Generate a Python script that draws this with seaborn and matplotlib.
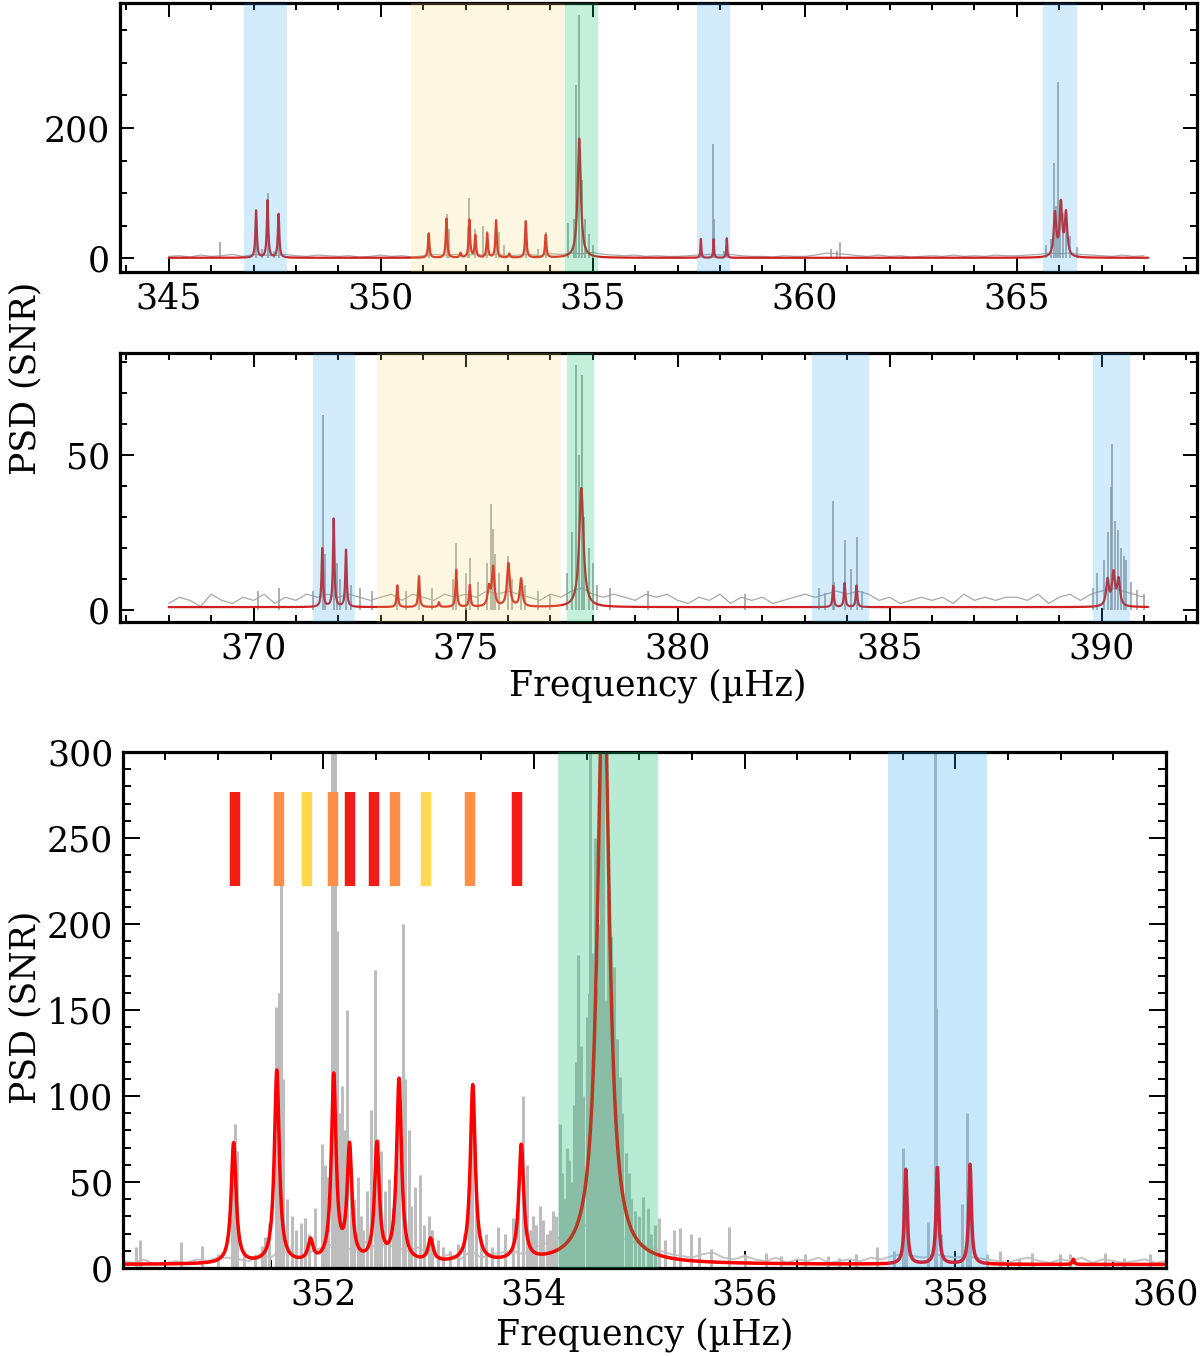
import numpy as np
import matplotlib
matplotlib.use("Agg")
import matplotlib.pyplot as plt
from matplotlib.ticker import MultipleLocator
import seaborn as sns

sns.set_theme(style="ticks")
plt.rcParams['font.family'] = ['DejaVu Serif']
plt.rcParams['mathtext.fontset'] = 'dejavuserif'
for k in ["text.color", "axes.labelcolor", "xtick.color", "ytick.color", "axes.edgecolor"]:
    plt.rcParams[k] = "black"

# ---------------- data ----------------
# panel 1 (345 - 368 uHz): fitted modes (freq, height, width)
p1_nu = [347.06, 347.33, 347.59, 351.13, 351.55, 351.88, 352.09, 352.23, 352.51, 352.72,
         353.03, 353.42, 353.89, 354.68, 357.55, 357.85, 358.16, 365.90, 366.04, 366.16]
p1_h = [72, 88, 67, 37, 60, 7, 58, 34, 37, 57, 6, 56, 35, 183, 29, 29, 30, 66, 80, 66]
p1_w = [0.02, 0.02, 0.02, 0.02, 0.02, 0.02, 0.02, 0.02, 0.02, 0.02,
        0.02, 0.02, 0.02, 0.045, 0.012, 0.012, 0.012, 0.035, 0.035, 0.035]
p1_noise = [3, 4, 2, 5, 3, 4, 6, 3,
            6, 5, 4, 6, 4, 3, 5, 4,
            3, 4, 2, 3, 5, 3, 4, 2,
            4, 6, 5, 6, 5, 6, 5, 6,
            4, 5, 6, 4, 7, 6, 8, 7,
            9, 6, 5, 4, 5, 3, 4, 3,
            3, 4, 5, 6, 5, 6, 4, 3,
            3, 2, 4, 3, 3, 5, 8, 7,
            6, 4, 3, 5, 3, 4, 2, 3,
            4, 3, 5, 3, 4, 3, 5, 4,
            4, 5, 6, 8, 7, 8, 6, 5,
            4, 3, 5, 3, 4]
p1_spk_f = [346.22, 347.06, 347.2, 347.33, 347.48, 347.59, 351.13, 351.57, 351.62, 352.05,
            352.09, 352.23, 352.4, 352.51, 352.72, 352.78, 352.9, 353.42, 353.7, 353.89,
            354.42, 354.55, 354.6, 354.68, 354.75, 354.82, 354.9, 355.0, 357.55, 357.83,
            357.86, 358.1, 358.16, 360.63, 360.75, 360.83, 365.68, 365.8, 365.87, 365.93,
            365.97, 366.02, 366.1, 366.16, 366.25, 366.42]
p1_spk_h = [25, 75, 15, 100, 12, 68, 40, 68, 45, 50,
            92, 45, 50, 42, 60, 40, 20, 58, 15, 40,
            54, 60, 266, 374, 120, 60, 38, 20, 28, 175,
            60, 12, 30, 15, 12, 25, 20, 30, 147, 80,
            270, 90, 70, 65, 35, 17]
p1_spans = [("blue", 346.78, 347.79), ("yellow", 350.71, 354.34), ("green", 354.34, 355.13),
            ("blue", 357.45, 358.23), ("blue", 365.61, 366.41)]

# panel 2 (368 - 391 uHz)
p2_nu = [371.62, 371.89, 372.18, 373.39, 373.90, 374.37, 374.78, 375.10, 375.55, 375.65,
         376.01, 376.31, 377.73, 383.67, 383.94, 384.22, 390.14, 390.28, 390.40]
p2_h = [19, 28.5, 18.5, 7, 10, 1.5, 12, 7, 6, 12.5, 14, 9, 38.5, 6.8, 7.8, 7, 8.5, 10.5, 8.5]
p2_w = [0.02, 0.02, 0.02, 0.02, 0.02, 0.02, 0.02, 0.02, 0.035, 0.035,
        0.04, 0.035, 0.06, 0.02, 0.02, 0.02, 0.04, 0.04, 0.04]
p2_noise = [2, 4, 3, 1, 5, 3, 2, 4,
            3, 5, 2, 4, 3, 5, 4, 5,
            4, 5, 4, 3, 4, 5, 3, 5,
            4, 3, 5, 4, 5, 4, 6, 5,
            6, 5, 4, 3, 5, 4, 6, 7,
            5, 4, 5, 4, 3, 5, 4, 5,
            3, 2, 4, 3, 5, 2, 4, 3,
            4, 2, 3, 4, 5, 4, 5, 6,
            5, 6, 5, 3, 4, 2, 3, 4,
            3, 4, 2, 5, 3, 4, 3, 4,
            4, 3, 5, 2, 4, 5, 3, 5,
            6, 7, 6, 5, 4]
p2_spk_f = [370.1, 370.6, 371.4, 371.63, 371.68, 371.89, 371.97, 372.04, 372.18, 372.3, 372.5,
            372.8, 373.39, 373.6, 373.9, 374.2, 374.7, 374.78, 375.0, 375.1, 375.3, 375.5,
            375.6, 375.65, 375.7, 375.8, 376.01, 376.1, 376.31, 376.4, 376.7, 377.0,
            377.4, 377.5, 377.6, 377.68, 377.75, 377.8, 377.9, 378.0, 378.1, 378.4, 379.3,
            381.6, 383.33, 383.48, 383.67, 383.7, 383.94, 384.09, 384.22, 384.35,
            389.79, 389.9, 390.05, 390.15, 390.21, 390.24, 390.31, 390.38, 390.45, 390.52,
            390.58, 390.7, 390.83, 391.0]
p2_spk_h = [6, 7, 6, 63, 18, 28, 15, 10, 19, 8, 7,
            6, 8, 6, 11, 7, 10, 21.5, 12, 16.7, 9, 15,
            34, 26, 18, 12, 17.4, 10, 10, 8, 6, 5,
            12, 25, 79, 50, 76, 30, 20, 15, 8, 7, 6,
            5, 7, 5.5, 35, 9, 22.6, 13, 23.4, 6,
            7, 12, 16, 25, 39.8, 53.5, 28.5, 25.8, 20, 17.4,
            16, 9, 6.5, 5]
p2_spans = [("blue", 371.41, 372.40), ("yellow", 372.91, 377.24), ("green", 377.40, 378.04),
            ("blue", 383.18, 384.52), ("blue", 389.79, 390.67)]

# panel 3 (zoom 350 - 360 uHz)
p3_nu = [351.15, 351.56, 351.88, 352.10, 352.25, 352.51, 352.72, 353.02, 353.42, 353.88,
         354.66, 357.53, 357.83, 358.14, 359.12]
p3_h = [70, 112, 12, 108, 66, 68, 106, 13, 103, 67, 360, 55, 56, 58, 3]
p3_w = [0.028, 0.028, 0.028, 0.027, 0.027, 0.027, 0.028, 0.028, 0.028, 0.028,
        0.065, 0.015, 0.015, 0.015, 0.01]
p3_noise = [4, 3, 5, 2, 3, 4, 3, 5, 4, 6,
            6, 5, 4, 8, 6, 10, 8, 6, 10, 12,
            14, 12, 10, 15, 12, 14, 12, 10, 12, 8,
            6, 8, 5, 10, 6, 8, 9, 10, 8, 12,
            14, 16, 20, 22, 25, 24, 20, 18, 16, 14,
            12, 10, 8, 7, 6, 8, 9, 6, 5, 7,
            5, 4, 6, 3, 5, 4, 6, 3, 4, 5,
            4, 6, 5, 7, 8, 7, 6, 8, 7, 6,
            7, 6, 5, 4, 3, 5, 6, 4, 3, 5,
            4, 6, 3, 5, 4, 3, 4, 5, 3, 4]
p3_spk_f = [350.22, 350.26, 350.65, 350.85, 351.0,
            351.13, 351.16, 351.18, 351.25, 351.35, 351.42, 351.45, 351.49, 351.55, 351.58,
            351.60, 351.62, 351.66, 351.70, 351.74, 351.79, 351.83, 351.87, 351.92, 351.99,
            352.02, 352.05, 352.08, 352.11, 352.13, 352.15, 352.18, 352.20, 352.23, 352.26,
            352.29, 352.33, 352.36, 352.38, 352.42, 352.45, 352.49, 352.52, 352.55, 352.59,
            352.62, 352.66, 352.69, 352.72, 352.76, 352.78, 352.81, 352.83, 352.87, 352.92,
            352.96, 353.0, 353.03, 353.09, 353.14, 353.2, 353.28, 353.34, 353.38, 353.41,
            353.45, 353.5, 353.55, 353.6, 353.66, 353.73, 353.80, 353.85, 353.90, 353.93,
            353.96, 353.99, 354.02, 354.06, 354.09, 354.12, 354.15, 354.18, 354.21, 354.25,
            354.27, 354.29, 354.31, 354.33, 354.36, 354.38, 354.40, 354.42, 354.45, 354.47,
            354.50, 354.52, 354.53, 354.56, 354.58, 354.60, 354.62, 354.64, 354.66, 354.68,
            354.70, 354.73, 354.75, 354.76, 354.79, 354.82, 354.84, 354.87, 354.90, 354.92,
            354.96, 355.0, 355.04, 355.08, 355.11, 355.15, 355.19, 355.24, 355.33, 355.39,
            355.49, 355.57, 355.68, 355.85, 356.0, 356.2, 356.35, 356.57, 356.79, 356.9,
            357.06, 357.26, 357.42, 357.50, 357.53, 357.74, 357.81, 357.82, 357.86, 358.06,
            358.11, 358.14, 358.3, 358.42, 358.60, 358.73, 358.99, 359.09, 359.42, 359.6,
            359.85]
p3_spk_h = [12, 16, 15, 13, 8,
            70, 84, 68, 10, 8, 13, 18, 26, 152, 160,
            245, 110, 40, 30, 22, 26, 29, 20, 35, 72,
            60, 53, 310, 300, 196, 90, 106, 80, 150, 59,
            40, 53, 30, 22, 45, 92, 173, 75, 68, 45,
            52, 35, 60, 110, 200, 110, 80, 36, 47, 54,
            25, 30, 22, 16, 12, 10, 14, 20, 40, 105,
            55, 18, 20, 12, 24, 20, 29, 45, 100, 60,
            22, 30, 25, 36, 28, 20, 22, 33, 30, 84,
            55, 40, 70, 63, 50, 95, 120, 182, 129, 100,
            146, 160, 310, 183, 250, 163, 200, 310, 300, 156,
            220, 193, 150, 175, 133, 111, 90, 67, 55, 40,
            33, 30, 41, 35, 20, 25, 29, 16, 22, 23,
            20, 18, 11, 24, 8, 9, 7, 8, 7, 6,
            8, 12, 10, 70, 55, 27, 310, 151, 20, 37,
            90, 55, 8, 10, 5, 9, 8, 8, 9, 6,
            8]
p3_spans = [("green", 354.23, 355.18), ("blue", 357.36, 358.30)]
mark_f = [351.16, 351.58, 351.85, 352.09, 352.25, 352.48, 352.68, 352.98, 353.39, 353.84]
mark_c = ["red", "orange", "yellow", "orange", "red", "red", "orange", "yellow", "orange", "red"]

span_col = {"blue": "#23a3f3", "yellow": "#f7db6b", "green": "#12c070"}
mark_col = {"red": "#f41c14", "orange": "#fd8f47", "yellow": "#ffd84c"}


def lorentz_model(f, nu, h, w, bg):
    out = np.full_like(f, bg, dtype=float)
    for n, a, g in zip(nu, h, w):
        out += a / (1.0 + ((f - n) / g) ** 2)
    return out


def style_axes(ax, xmaj, xmin, ymaj, ymin, big=False):
    ax.xaxis.set_major_locator(MultipleLocator(xmaj))
    ax.xaxis.set_minor_locator(MultipleLocator(xmin))
    ax.yaxis.set_major_locator(MultipleLocator(ymaj))
    ax.yaxis.set_minor_locator(MultipleLocator(ymin))
    L = 12 if big else 10
    ax.tick_params(which="both", direction="in", top=True, right=True,
                   labelsize=25, width=1.4, pad=7, colors="black")
    ax.tick_params(which="major", length=L)
    ax.tick_params(which="minor", length=L / 2)
    for s in ax.spines.values():
        s.set_linewidth(2.3)
        s.set_color("black")
    ax.set_xlabel("")
    ax.set_ylabel("")


fig = plt.figure(figsize=(12, 13.56), dpi=100)

# ---------------- top two panels ----------------
panels = [
    (345.0, 368.1, (343.85, 369.25), (-21, 392), 200, 50, p1_nu, p1_h, p1_w, p1_noise,
     p1_spk_f, p1_spk_h, p1_spans, [0.1, 0.7994, 0.8975, 0.1984]),
    (368.0, 391.1, (366.85, 392.25), (-4, 83), 50, 10, p2_nu, p2_h, p2_w, p2_noise,
     p2_spk_f, p2_spk_h, p2_spans, [0.1, 0.5413, 0.8975, 0.1984]),
]
for (f0, f1, xl, yl, ymaj, ymin, nu, h, w, noise, sf, sh, spans, rect) in panels:
    ax = fig.add_axes(rect)
    nf = f0 + 0.25 * np.arange(len(noise))
    sns.lineplot(x=nf, y=noise, ax=ax, color="#a8a8a8", lw=0.9, zorder=1)
    ax.vlines(sf, 0, sh, color="#9a9a9a", lw=1.1, zorder=1)
    ff = np.linspace(f0, f1, 8000)
    sns.lineplot(x=ff, y=lorentz_model(ff, nu, h, w, 0.8), ax=ax,
                 color="#d01f1f", lw=1.6, zorder=2)
    for c, a, b in spans:
        ax.axvspan(a, b, color=span_col[c], alpha=0.2 if c != "green" else 0.25,
                   lw=0, zorder=3)
    ax.set_xlim(*xl)
    ax.set_ylim(*yl)
    style_axes(ax, 5, 1, ymaj, ymin)

fig.text(0.021, 0.7212, "PSD (SNR)", rotation=90, ha="center", va="center", fontsize=25)
fig.text(0.548, 0.494, "Frequency (µHz)", ha="center", va="center", fontsize=25)

# ---------------- bottom zoom panel ----------------
ax3 = fig.add_axes([0.1025, 0.0649, 0.8692, 0.3805])
nf3 = 350.1 + 0.1 * np.arange(len(p3_noise))
sns.lineplot(x=nf3, y=p3_noise, ax=ax3, color="#c4c4c4", lw=1.4, zorder=1)
ax3.vlines(p3_spk_f, 0, p3_spk_h, color="#bdbdbd", lw=2.2, zorder=1)
ff3 = np.linspace(350.1, 360.0, 12000)
sns.lineplot(x=ff3, y=lorentz_model(ff3, p3_nu, p3_h, p3_w, 2.0), ax=ax3,
             color="#ff0000", lw=2.5, zorder=2)
for c, a, b in p3_spans:
    ax3.axvspan(a, b, color=span_col[c], alpha=0.25 if c == "blue" else 0.3, lw=0, zorder=3)
ax3.vlines(mark_f, 222, 277, colors=[mark_col[c] for c in mark_c], lw=7.5, zorder=4)
ax3.set_xlim(350.1, 360.0)
ax3.set_ylim(0, 300)
style_axes(ax3, 2, 0.5, 50, 10, big=True)

fig.text(0.021, 0.2574, "PSD (SNR)", rotation=90, ha="center", va="center", fontsize=25)
fig.text(0.537, 0.0155, "Frequency (µHz)", ha="center", va="center", fontsize=25)

fig.savefig("out.png", dpi=100)
